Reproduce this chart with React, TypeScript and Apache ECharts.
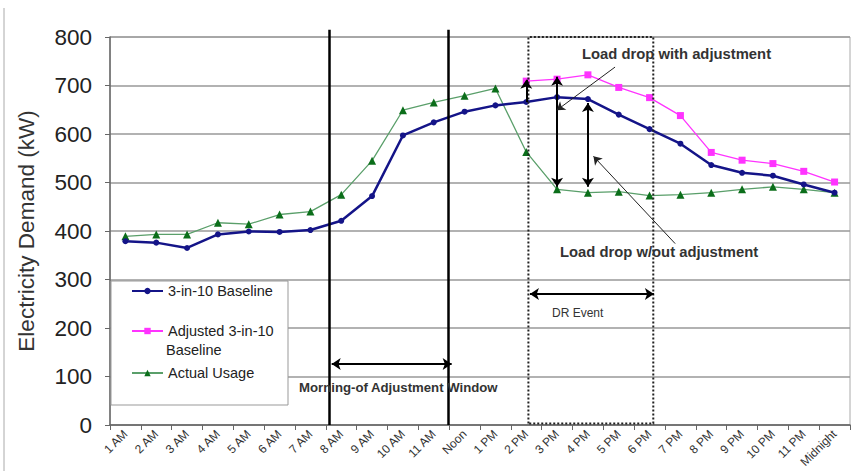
import React, { useEffect, useRef } from "react";
import * as echarts from "echarts";

const hours = [
  "1 AM", "2 AM", "3 AM", "4 AM", "5 AM", "6 AM", "7 AM", "8 AM", "9 AM", "10 AM", "11 AM", "Noon",
  "1 PM", "2 PM", "3 PM", "4 PM", "5 PM", "6 PM", "7 PM", "8 PM", "9 PM", "10 PM", "11 PM", "Midnight",
];
const baseline = [379, 376, 365, 393, 399, 398, 402, 421, 472, 597, 624, 646, 659, 666, 676, 672, 640, 610, 580, 536, 520, 514, 496, 479];
const adjusted = [null, null, null, null, null, null, null, null, null, null, null, null, null, 709, 713, 722, 696, 675, 638, 562, 546, 539, 523, 501];
const actual = [389, 393, 393, 417, 414, 434, 440, 475, 545, 649, 665, 679, 694, 563, 486, 479, 481, 473, 475, 479, 486, 491, 486, 479];

// annotation geometry in (category-index, kW) units on a hidden 0..24 axis
const windowLines = [
  [[7.11, 0], [7.11, 815]],
  [[10.97, 0], [10.97, 815]],
];
const drBox = [[13.57, 3], [13.57, 800], [17.62, 800], [17.62, 3], [13.57, 3]];
const upArrows = [[[13.5, 666], [13.5, 712]]];
const doubleArrows = [
  [[14.5, 491], [14.5, 718]],
  [[15.5, 491], [15.5, 664]],
  [[7.19, 125.7], [11.08, 125.7]],
  [[13.62, 270], [17.64, 270]],
];
const pointers = [
  [[16.38, 738], [14.49, 649]],
  [[18.33, 374], [15.68, 554]],
];

const FONT = "'Liberation Sans', Arial, sans-serif";

export default function App() {
  const ref = useRef<HTMLDivElement>(null);
  useEffect(() => {
    document.body.style.margin = "0";
    const chart = echarts.init(ref.current!, null, { renderer: "svg" });
    const linesBase = {
      type: "lines",
      coordinateSystem: "cartesian2d",
      xAxisIndex: 1,
      yAxisIndex: 0,
      silent: true,
      clip: false,
      z: 5,
    };
    const legendText = { fontSize: 14.5, color: "#222", fontFamily: FONT };
    chart.setOption({
      animation: false,
      textStyle: { fontFamily: FONT },
      grid: { left: 110, right: 1, top: 37, bottom: 46, show: true, borderColor: "#aaa", borderWidth: 1 },
      xAxis: [
        {
          type: "category",
          data: hours,
          axisLine: { lineStyle: { color: "#666", width: 1.5 } },
          axisTick: { show: true, length: 5, lineStyle: { color: "#666" } },
          axisLabel: { interval: 0, rotate: 45, fontSize: 12, color: "#333", margin: 7, fontFamily: FONT },
          splitLine: { show: false },
        },
        { type: "value", min: 0, max: 24, show: false },
      ],
      yAxis: {
        type: "value",
        min: 0,
        max: 800,
        interval: 100,
        name: "Electricity Demand (kW)",
        nameLocation: "middle",
        nameGap: 72,
        nameTextStyle: { fontSize: 22.5, color: "#333", fontFamily: FONT },
        axisLine: { show: true, lineStyle: { color: "#666", width: 1.5 } },
        axisTick: { show: true, length: 5, lineStyle: { color: "#666" } },
        axisLabel: { fontSize: 22.5, color: "#222", margin: 18, fontFamily: FONT },
        splitLine: { lineStyle: { color: "#999", width: 1.5 } },
      },
      legend: [
        {
          data: ["3-in-10 Baseline"],
          left: 131, top: 283.5, orient: "vertical", padding: 0,
          itemWidth: 31, itemHeight: 8, z: 10, textStyle: legendText,
        },
        {
          data: ["Adjusted 3-in-10 Baseline"],
          left: 131, top: 323.5, orient: "vertical", padding: 0,
          itemWidth: 31, itemHeight: 8, z: 10, textStyle: legendText,
          formatter: () => "Adjusted 3-in-10",
        },
        {
          data: ["Actual Usage"],
          left: 131, top: 365.5, orient: "vertical", padding: 0,
          itemWidth: 31, itemHeight: 8, z: 10, textStyle: legendText,
        },
      ],
      graphic: [
        { type: "line", shape: { x1: 4, y1: 8, x2: 4, y2: 471 }, style: { stroke: "#aaa", lineWidth: 1 } },
        { type: "rect", z: 3, shape: { x: 111, y: 281, width: 177, height: 124 }, style: { fill: "#fff", stroke: "#999", lineWidth: 1 } },
        { type: "text", z: 11, style: { x: 166, y: 350, verticalAlign: "middle", text: "Baseline", fontSize: 14.5, fill: "#222", fontFamily: FONT } },
        { type: "text", z: 11, style: { x: 582, y: 54, verticalAlign: "middle", text: "Load drop with adjustment", fontSize: 14.8, fontWeight: "bold", fill: "#333", fontFamily: FONT } },
        { type: "text", z: 11, style: { x: 560, y: 252, verticalAlign: "middle", text: "Load drop w/out adjustment", fontSize: 14.8, fontWeight: "bold", fill: "#333", fontFamily: FONT } },
        { type: "text", z: 11, style: { x: 299, y: 387, verticalAlign: "middle", text: "Morning-of Adjustment Window", fontSize: 13.2, fontWeight: "bold", fill: "#333", fontFamily: FONT } },
        { type: "text", z: 11, style: { x: 552, y: 313, verticalAlign: "middle", text: "DR Event", fontSize: 12, fill: "#333", fontFamily: FONT } },
      ],
      series: [
        {
          name: "3-in-10 Baseline",
          type: "line",
          data: baseline,
          symbol: "circle",
          symbolSize: 6,
          lineStyle: { color: "#141488", width: 2.5 },
          itemStyle: { color: "#141488" },
          z: 4,
        },
        {
          name: "Adjusted 3-in-10 Baseline",
          type: "line",
          data: adjusted,
          symbol: "rect",
          symbolSize: 7,
          lineStyle: { color: "#ff33ff", width: 1.3 },
          itemStyle: { color: "#ff33ff" },
          z: 3,
        },
        {
          name: "Actual Usage",
          type: "line",
          data: actual,
          symbol: "triangle",
          symbolSize: 8,
          lineStyle: { color: "#5a9f6a", width: 1.3 },
          itemStyle: { color: "#0b6e1a" },
          z: 3,
        },
        {
          ...linesBase,
          data: windowLines.map((c) => ({ coords: c })),
          symbol: ["none", "none"],
          lineStyle: { color: "#000", width: 2.5, opacity: 1 },
        },
        {
          ...linesBase,
          polyline: true,
          data: [{ coords: drBox }],
          symbol: ["none", "none"],
          lineStyle: { color: "#222", width: 2, type: [2, 2], opacity: 1 },
        },
        {
          ...linesBase,
          data: upArrows.map((c) => ({ coords: c })),
          symbol: ["none", "arrow"],
          symbolSize: 9,
          lineStyle: { color: "#000", width: 2, opacity: 1 },
        },
        {
          ...linesBase,
          data: doubleArrows.map((c) => ({ coords: c })),
          symbol: ["arrow", "arrow"],
          symbolSize: 9,
          lineStyle: { color: "#000", width: 2, opacity: 1 },
        },
        {
          ...linesBase,
          data: pointers.map((c) => ({ coords: c })),
          symbol: ["none", "arrow"],
          symbolSize: 8,
          lineStyle: { color: "#222", width: 1, opacity: 1 },
        },
      ],
    });
    return () => chart.dispose();
  }, []);
  return <div ref={ref} style={{ width: 851, height: 471 }} />;
}
